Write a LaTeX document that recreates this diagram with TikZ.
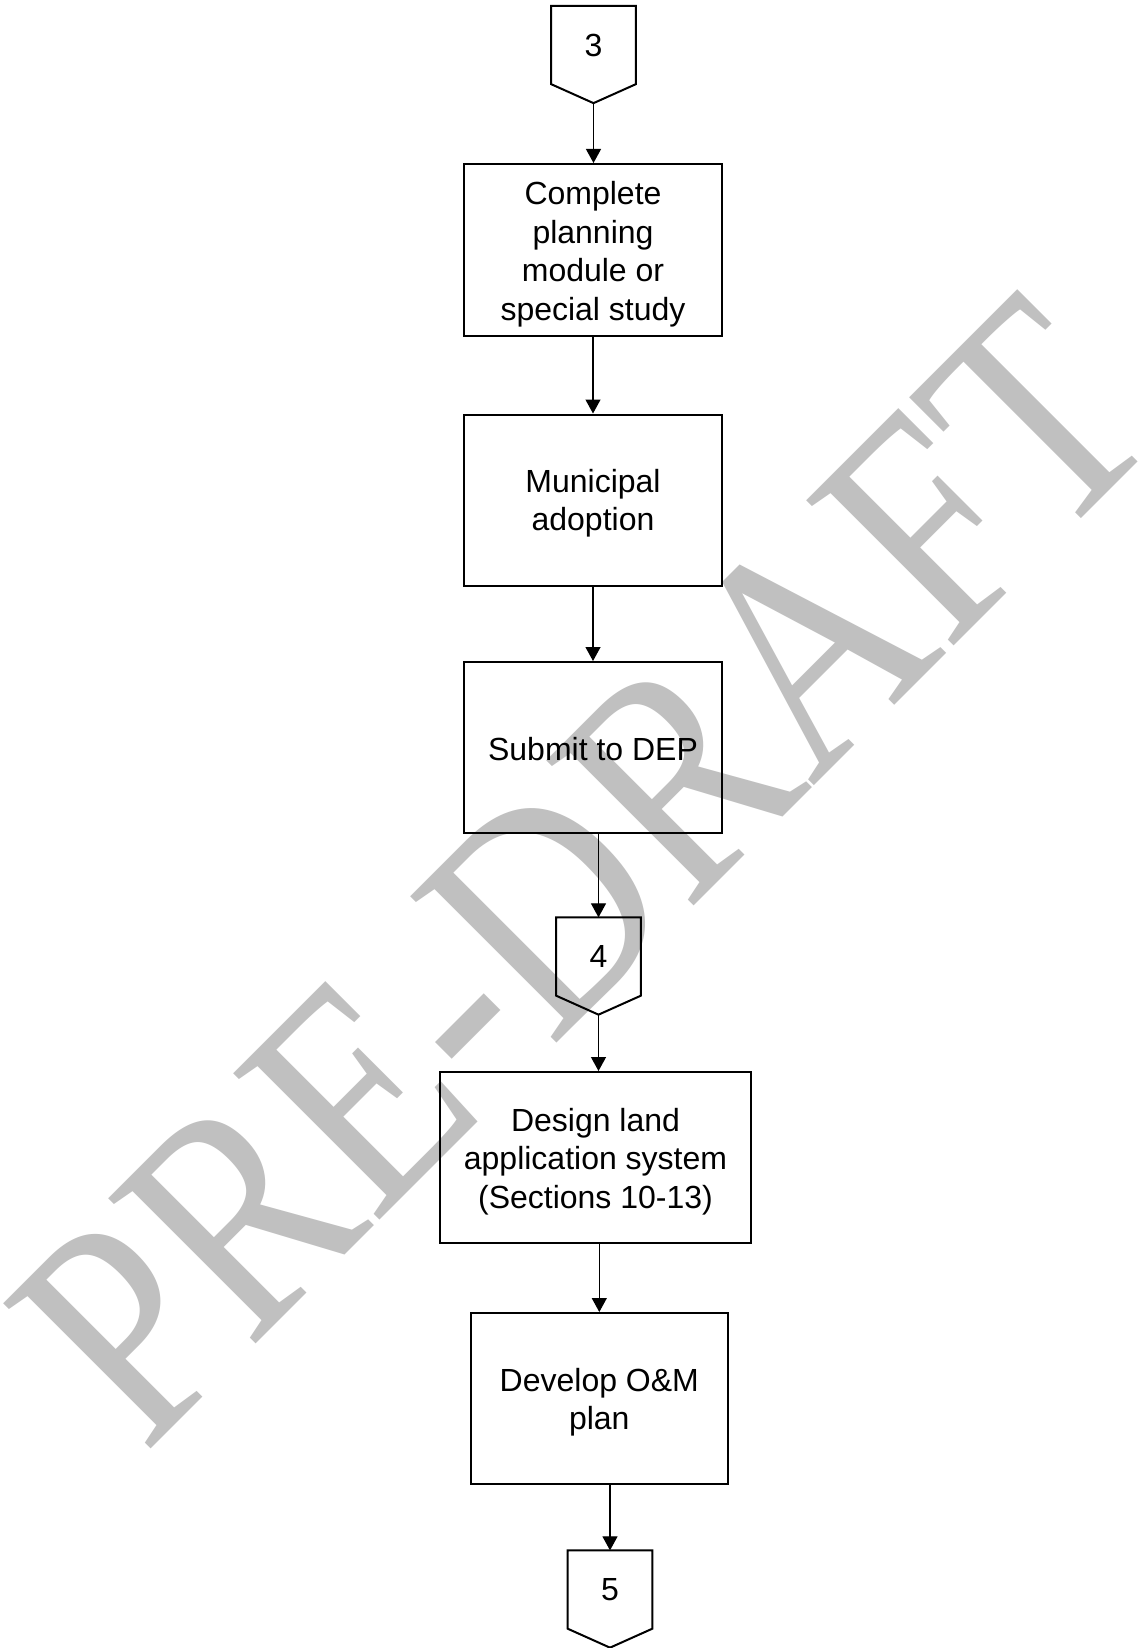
\documentclass[tikz,border=0pt]{standalone}
\usepackage{fontspec}
\usepackage{graphicx}
\setmainfont{Liberation Sans}
\newfontfamily\wmfont{Liberation Serif}
\usetikzlibrary{arrows.meta,calc}
\definecolor{wmgray}{RGB}{192,192,192}
\begin{document}
\begin{tikzpicture}[x=0.5pt,y=-0.5pt,
  frame/.style={draw=black,line width=1pt},
  boxfont/.style={font=\fontsize{16}{19.25}\selectfont},
  stepbox/.style={frame,rectangle,inner sep=0pt,
    minimum width=129pt,minimum height=85.5pt},
  boxtext/.style={inner sep=0pt,align=center,boxfont},
  offpage/.style={rectangle,inner sep=0pt,minimum width=42pt,
    minimum height=38.75pt,boxfont},
  flow/.style={line width=0.6pt,-{Triangle[length=7pt,width=7.5pt]}},
  watermark/.style={text=wmgray,inner sep=0pt,anchor=base,rotate=45,
    font=\wmfont\fontsize{158}{160}\selectfont}]
\useasboundingbox (0,0) rectangle (1143,1648);
\fill[white] (0,0) rectangle (1143,1648);

% diagonal draft stamp, behind everything
\node[watermark] (stamp) at (656,944) {\scalebox{0.84}[1]{PRE-DRAFT}};

% off-page references
\node[offpage] (c3) at (593.5,45) {\raisebox{-1pt}{3}};
\node[offpage] (c4) at (598.5,956.5) {\raisebox{-1pt}{4}};
\node[offpage] (c5) at (610,1589.5) {\raisebox{-1pt}{5}};
\foreach \c in {c3,c4,c5}{
  \coordinate (\c tip) at ([yshift=-9.5pt]\c.south);
  \draw[frame,line join=miter] (\c.north west) -- (\c.north east) -- (\c.south east)
    -- (\c tip) -- (\c.south west) -- cycle;
}

% process steps (frames, then their captions slightly below centre)
\node[stepbox,minimum height=86pt] (plan) at (593,250) {};
\node[stepbox] (adopt) at (593,500) {};
\node[stepbox] (submit) at (593,747.5) {};
\node[stepbox,minimum width=155.5pt] (design) at (595.5,1157.5) {};
\node[stepbox,minimum width=128.5pt] (omplan) at (599.3,1398.5) {};

\node[boxtext] (plantext) at ([yshift=-2pt]plan.center)
  {Complete\\planning\\module or\\special study};
\node[boxtext] (adopttext) at ([yshift=-1.5pt]adopt.center) {Municipal\\adoption};
\node[boxtext] (submittext) at ([yshift=-1pt]submit.center) {Submit to DEP};
\node[boxtext] (designtext) at ([yshift=-2pt]design.center)
  {Design land\\application system\\(Sections 10-13)};
\node[boxtext] (omtext) at ([yshift=-1.75pt]omplan.center) {Develop O\&M\\plan};

% flow
\draw[flow] (c3tip) -- (c3tip |- plan.north);
\draw[flow] (plan.south) -- (adopt.north);
\draw[flow] (adopt.south) -- (submit.north);
\draw[flow] (submit.south -| c4.north) -- (c4.north);
\draw[flow] (c4tip) -- (c4tip |- design.north);
\draw[flow] (omplan.north |- design.south) -- (omplan.north);
\draw[flow] (c5.north |- omplan.south) -- (c5.north);
\end{tikzpicture}
\end{document}
